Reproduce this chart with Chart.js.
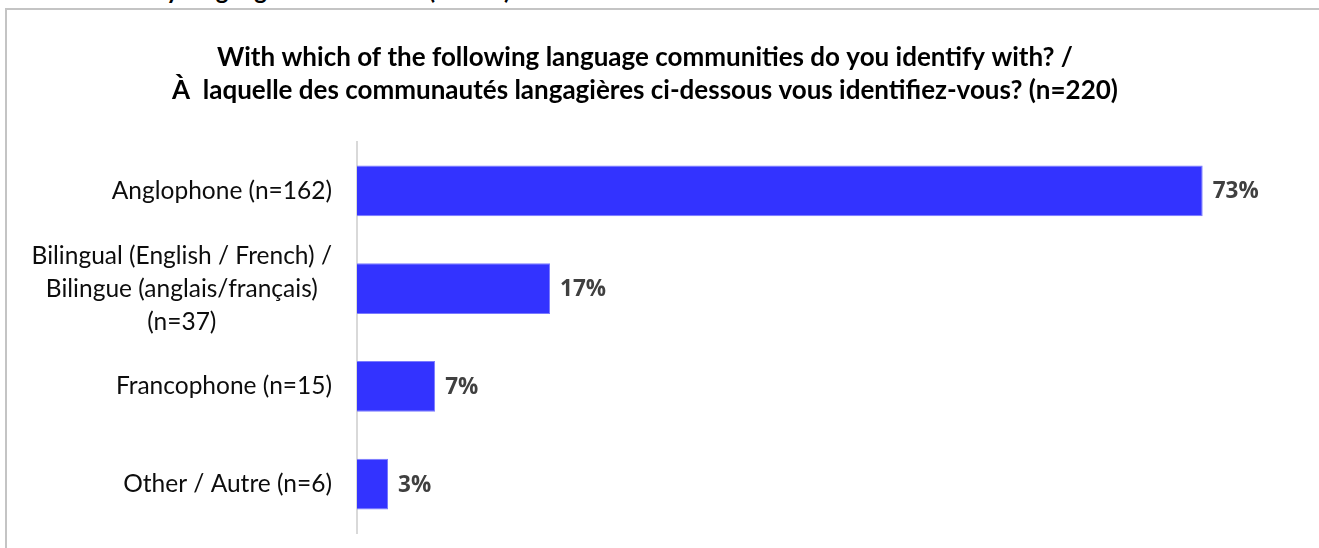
<!DOCTYPE html>
<html>
<head>
<meta charset="utf-8">
<script src="https://cdn.jsdelivr.net/npm/chart.js@4/dist/chart.umd.min.js"></script>
<style>
    html, body { margin: 0; padding: 0; background: #fff; overflow: hidden; }
    .header {
        position: absolute; left: 4px; top: -25px; white-space: nowrap;
        font: bold 24px Lato, sans-serif; color: #000;
    }
    .frame {
        position: absolute; left: 5px; top: 8px; width: 1400px; height: 600px;
        border-left: 2px solid #c4c4c4; border-top: 2px solid #c4c4c4;
        background: #fff;
    }
    .wrap { position: absolute; left: 0; top: 0; width: 1290px; height: 548px; }
</style>
</head>
<body>
<div class="header" id="header"></div>
<div class="frame"></div>
<div class="wrap"><canvas id="chart"></canvas></div>
<script>
const headerText = "Chart 3: Identity language communities (n=220)";
const titleLines = [
    "With which of the following language communities do you identify with? /",
    "À  laquelle des communautés langagières ci-dessous vous identifiez-vous? (n=220)"
];
const categories = [
    "Anglophone (n=162)",
    ["Bilingual (English / French) /", "Bilingue (anglais/français)", "(n=37)"],
    "Francophone (n=15)",
    "Other / Autre (n=6)"
];
const shares = [73.6, 16.8, 6.8, 2.7];
const shareLabels = ["73%", "17%", "7%", "3%"];

document.getElementById("header").textContent = headerText;

// y labels: single lines right aligned, multi-line block centred (like Excel)
const categoryLabels = {
    id: "categoryLabels",
    afterDraw(chart) {
        const ctx = chart.ctx;
        const yScale = chart.scales.y;
        const rightEdge = 332;
        const lineH = 33;
        ctx.save();
        ctx.font = "24.5px Lato";
        ctx.fillStyle = "#0d0d0d";
        ctx.textBaseline = "middle";
        ctx.textAlign = "center";
        categories.forEach((cat, i) => {
            const lines = Array.isArray(cat) ? cat : [cat];
            const y = yScale.getPixelForTick(i);
            const widest = Math.max(...lines.map(l => ctx.measureText(l).width));
            const cx = rightEdge - widest / 2;
            const top = y - (lines.length - 1) * lineH / 2;
            lines.forEach((l, j) => ctx.fillText(l, cx, top + j * lineH));
        });
        ctx.restore();
    }
};

const valueLabels = {
    id: "valueLabels",
    afterDatasetsDraw(chart) {
        const ctx = chart.ctx;
        const meta = chart.getDatasetMeta(0);
        ctx.save();
        ctx.font = "bold 22.5px 'Open Sans'";
        ctx.fillStyle = "#404040";
        ctx.textBaseline = "middle";
        ctx.textAlign = "left";
        meta.data.forEach((bar, i) => {
            ctx.fillText(shareLabels[i], bar.x + 10, bar.y + 1);
        });
        ctx.restore();
    }
};

new Chart(document.getElementById("chart"), {
    type: "bar",
    data: {
        labels: categories,
        datasets: [{
            data: shares,
            backgroundColor: "#3333ff",
            borderColor: "#7a7aff",
            borderWidth: 1,
            barPercentage: 0.52,
            categoryPercentage: 1
        }]
    },
    options: {
        indexAxis: "y",
        responsive: true,
        maintainAspectRatio: false,
        animation: false,
        layout: { padding: { left: 0, right: 0, top: 0, bottom: 15 } },
        plugins: {
            legend: { display: false },
            tooltip: { enabled: false },
            title: {
                display: true,
                text: titleLines,
                color: "#000",
                font: { family: "Lato", size: 26, weight: "bold", lineHeight: "33px" },
                padding: { top: 41, bottom: 35 }
            }
        },
        scales: {
            x: { display: false, min: 0, max: 81.2 },
            y: {
                ticks: { display: false },
                grid: { display: false },
                border: { display: true, color: "#d9d9d9", width: 2 },
                afterFit(scale) { scale.width = 357; }
            }
        }
    },
    plugins: [categoryLabels, valueLabels]
});
</script>
</body>
</html>
